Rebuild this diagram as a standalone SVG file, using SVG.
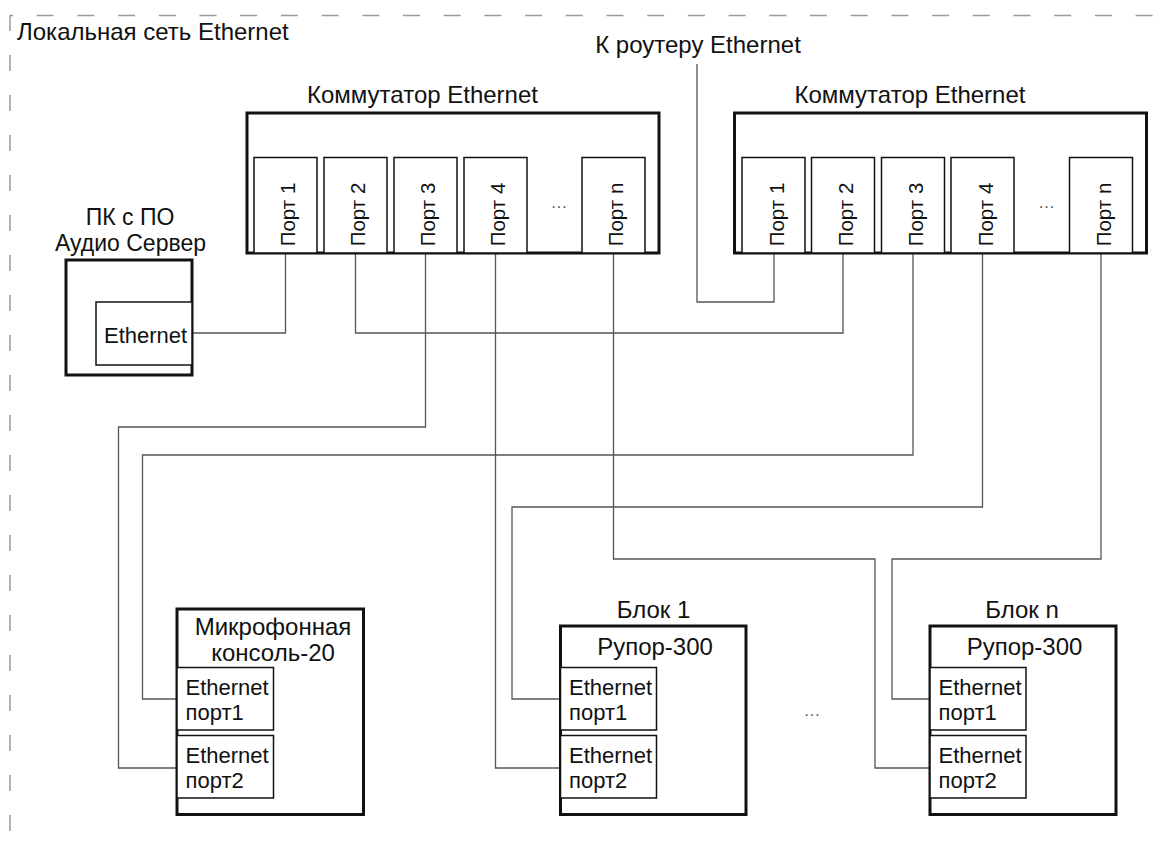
<svg xmlns="http://www.w3.org/2000/svg" width="1171" height="841" viewBox="0 0 1171 841">
<style>
text{font-family:"Liberation Sans",Arial,sans-serif;fill:#111}
.t{font-size:24px}
.tm{font-size:24px;text-anchor:middle}
.tp{font-size:23px;text-anchor:middle}
.s{font-size:22px}
.p{font-size:20.5px;text-anchor:middle}
.dots{font-size:17px;text-anchor:middle;fill:#555}
.box{fill:#fff;stroke:#111;stroke-width:3}
.in{fill:#fff;stroke:#111;stroke-width:1.5}
.c{fill:none;stroke:#555;stroke-width:1.3}
.dh{fill:none;stroke:#9a9a9a;stroke-width:1.5;stroke-dasharray:17 23.7;stroke-dashoffset:14}
.dv{fill:none;stroke:#9a9a9a;stroke-width:1.5;stroke-dasharray:16 24}
</style>
<rect width="1171" height="841" fill="#fff"/>
<g id="lan">
<path class="dh" d="M10,15.5 H1171"/>
<path class="dv" d="M10,15 V841"/>
<text class="t" x="17" y="40">Локальная сеть Ethernet</text>
</g>
<g id="connectors">
<path class="c" d="M192,333 H285.5 V253"/>
<path class="c" d="M697,64 V302 H774 V253"/>
<path class="c" d="M355.5,253 V333 H843 V253"/>
<path class="c" d="M425.5,253 V427 H118.5 V768 H177"/>
<path class="c" d="M913,253 V455 H142.5 V699 H177"/>
<path class="c" d="M495.5,253 V768 H560.5"/>
<path class="c" d="M982.5,253 V507 H512 V699 H560.5"/>
<path class="c" d="M613.5,253 V559 H875 V768 H930"/>
<path class="c" d="M1101,253 V559 H892 V699 H930"/>
</g>
<g id="router">
<text class="tm" x="698" y="53">К роутеру Ethernet</text>
</g>
<g id="switch1">
<text class="tm" x="422.5" y="103">Коммутатор Ethernet</text>
<rect class="box" x="247" y="113" width="412" height="140"/>
<rect class="in" x="254" y="157.5" width="63" height="95.5"/>
<rect class="in" x="324" y="157.5" width="63" height="95.5"/>
<rect class="in" x="394" y="157.5" width="63" height="95.5"/>
<rect class="in" x="464" y="157.5" width="63" height="95.5"/>
<rect class="in" x="582" y="157.5" width="63" height="95.5"/>
<text class="p" transform="translate(295,214.5) rotate(-90)">Порт 1</text>
<text class="p" transform="translate(365,214.5) rotate(-90)">Порт 2</text>
<text class="p" transform="translate(435,214.5) rotate(-90)">Порт 3</text>
<text class="p" transform="translate(505,214.5) rotate(-90)">Порт 4</text>
<text class="p" transform="translate(623,214.5) rotate(-90)">Порт n</text>
<text class="dots" x="559" y="208">…</text>
</g>
<g id="switch2">
<text class="tm" x="910" y="103">Коммутатор Ethernet</text>
<rect class="box" x="734.5" y="113" width="412" height="140"/>
<rect class="in" x="742" y="157.5" width="63" height="95.5"/>
<rect class="in" x="811.5" y="157.5" width="63" height="95.5"/>
<rect class="in" x="881.5" y="157.5" width="63" height="95.5"/>
<rect class="in" x="951" y="157.5" width="63" height="95.5"/>
<rect class="in" x="1069.5" y="157.5" width="63" height="95.5"/>
<text class="p" transform="translate(783.5,214.5) rotate(-90)">Порт 1</text>
<text class="p" transform="translate(853,214.5) rotate(-90)">Порт 2</text>
<text class="p" transform="translate(923,214.5) rotate(-90)">Порт 3</text>
<text class="p" transform="translate(992.5,214.5) rotate(-90)">Порт 4</text>
<text class="p" transform="translate(1111,214.5) rotate(-90)">Порт n</text>
<text class="dots" x="1046.5" y="208">…</text>
</g>
<g id="pc">
<text class="tp" x="130" y="225">ПК с ПО</text>
<text class="tp" x="130.5" y="251">Аудио Сервер</text>
<rect class="box" x="66" y="260" width="126" height="115"/>
<rect class="in" x="96" y="302" width="96" height="63"/>
<text class="s" x="104" y="342.5">Ethernet</text>
</g>
<g id="mic">
<rect class="box" x="177" y="609" width="186.5" height="205.5"/>
<text class="tm" x="273" y="635">Микрофонная</text>
<text class="tm" x="273" y="661">консоль-20</text>
<rect class="in" x="177" y="667.5" width="96.5" height="62.5"/>
<rect class="in" x="177" y="735.5" width="96.5" height="62.5"/>
<text class="s" x="185.5" y="695">Ethernet</text>
<text class="s" x="185.5" y="719.5">порт1</text>
<text class="s" x="185.5" y="763">Ethernet</text>
<text class="s" x="185.5" y="788">порт2</text>
</g>
<g id="block1">
<text class="tm" x="653.5" y="618">Блок 1</text>
<rect class="box" x="560.5" y="626" width="185.5" height="188.5"/>
<text class="tm" x="655" y="655">Рупор-300</text>
<rect class="in" x="560.5" y="667.5" width="96" height="62.5"/>
<rect class="in" x="560.5" y="735.5" width="96" height="62.5"/>
<text class="s" x="569" y="695">Ethernet</text>
<text class="s" x="569" y="719.5">порт1</text>
<text class="s" x="569" y="763">Ethernet</text>
<text class="s" x="569" y="788">порт2</text>
</g>
<g id="gap">
<text class="dots" x="812" y="716">…</text>
</g>
<g id="blockn">
<text class="tm" x="1022" y="618">Блок n</text>
<rect class="box" x="930" y="626" width="186" height="188.5"/>
<text class="tm" x="1024.5" y="655">Рупор-300</text>
<rect class="in" x="930" y="667.5" width="96" height="62.5"/>
<rect class="in" x="930" y="735.5" width="96" height="62.5"/>
<text class="s" x="938.5" y="695">Ethernet</text>
<text class="s" x="938.5" y="719.5">порт1</text>
<text class="s" x="938.5" y="763">Ethernet</text>
<text class="s" x="938.5" y="788">порт2</text>
</g>
</svg>
